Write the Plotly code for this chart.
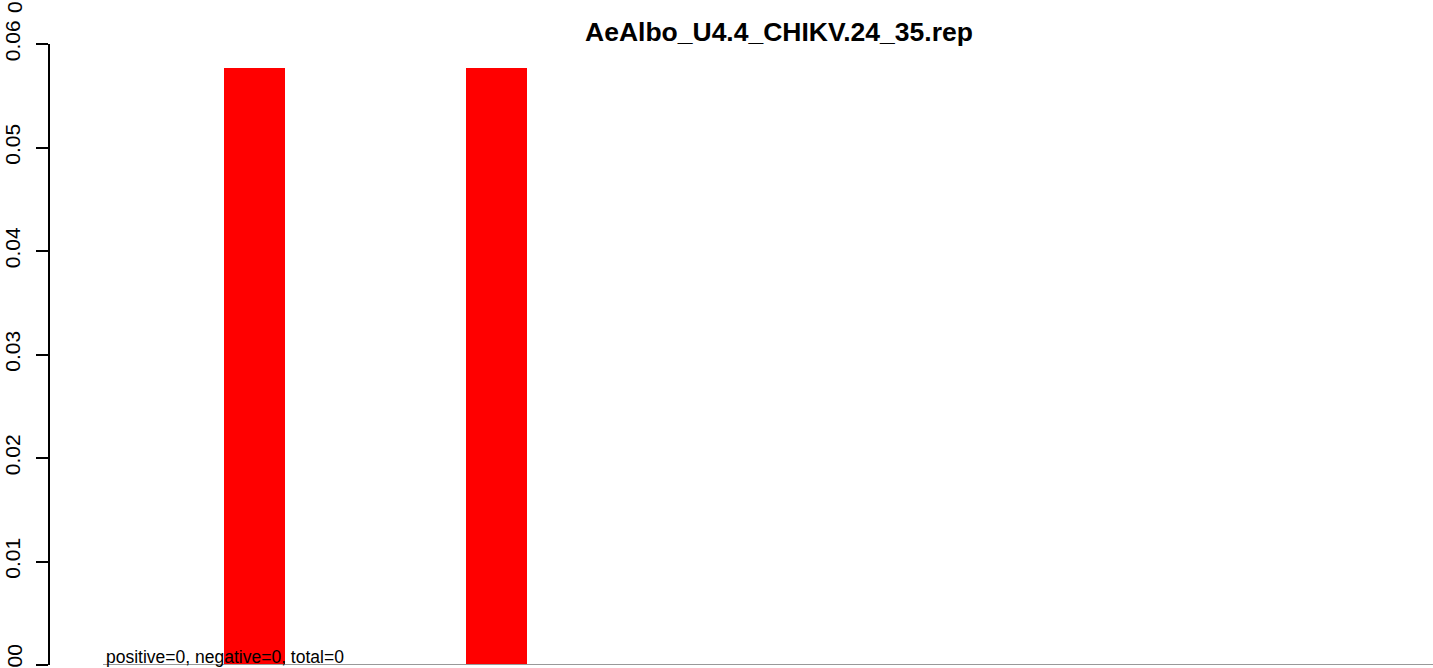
import plotly.graph_objects as go

# ---- data ----
bar_positions = [1, 2]
bar_values = [0.0577, 0.0577]
y_tick_values = [0, 0.01, 0.02, 0.03, 0.04, 0.05, 0.06]
y_tick_labels = ["", "0.01", "0.02", "0.03", "0.04", "0.05", "0.06"]
zero_label = "0.00"
top_cut_label = "0.07"
title_text = "AeAlbo_U4.4_CHIKV.24_35.rep"
footer_text = "positive=0, negative=0, total=0"

FONT = "Liberation Sans, Arial, sans-serif"

fig = go.Figure()
fig.add_trace(go.Bar(
    x=bar_positions, y=bar_values, width=0.252,
    marker=dict(color="#FF0000", line=dict(width=0)),
    hoverinfo="skip", showlegend=False,
))

fig.update_layout(
    width=1433, height=668,
    margin=dict(l=50, r=0, t=44, b=3, pad=0),
    paper_bgcolor="white", plot_bgcolor="white",
    font=dict(family=FONT, color="black"),
    bargap=0,
    xaxis=dict(range=[0.155, 5.87], visible=False, showgrid=False, zeroline=False),
    yaxis=dict(range=[0, 0.06], tickvals=y_tick_values, ticktext=y_tick_labels,
               showgrid=False, zeroline=False, showline=True, linecolor="black",
               linewidth=1.5, ticks="outside", ticklen=12, tickwidth=1.5,
               tickcolor="black", tickangle=-90, ticklabelstandoff=8,
               tickfont=dict(size=21, family=FONT, color="black")),
)

# gray baseline
fig.add_shape(type="line", xref="x domain", yref="y",
              x0=(103 - 50) / 1383, x1=1, y0=0, y1=0,
              line=dict(color="#999999", width=2))

# title
fig.add_annotation(text="<b>" + title_text + "</b>", xref="paper", yref="paper",
                   x=(779 - 50) / 1383, y=1 + (44 - 32) / 621,
                   xanchor="center", yanchor="middle", showarrow=False,
                   font=dict(size=26.5, family=FONT, color="black"))

# footer text
fig.add_annotation(text=footer_text, xref="paper", yref="paper",
                   x=(104 - 50) / 1383, y=0, xanchor="left", yanchor="bottom",
                   yshift=-4, showarrow=False,
                   font=dict(size=17.5, family=FONT, color="black"))

# zero tick label (cut at bottom edge)
fig.add_annotation(text=zero_label, xref="paper", yref="y",
                   x=-(50 - 14) / 1383, y=0,
                   xanchor="center", yanchor="middle", textangle=-90,
                   showarrow=False,
                   font=dict(size=21, family=FONT, color="black"))

# partially cut label at top-left
fig.add_annotation(text=top_cut_label, xref="paper", yref="paper",
                   x=-(50 - 14) / 1383, y=1 + (44 + 7) / 621,
                   xanchor="center", yanchor="middle", textangle=-90,
                   showarrow=False,
                   font=dict(size=21, family=FONT, color="black"))

fig.write_html("out.html", config={"displayModeBar": False},
               post_script="document.body.style.margin='0';")
